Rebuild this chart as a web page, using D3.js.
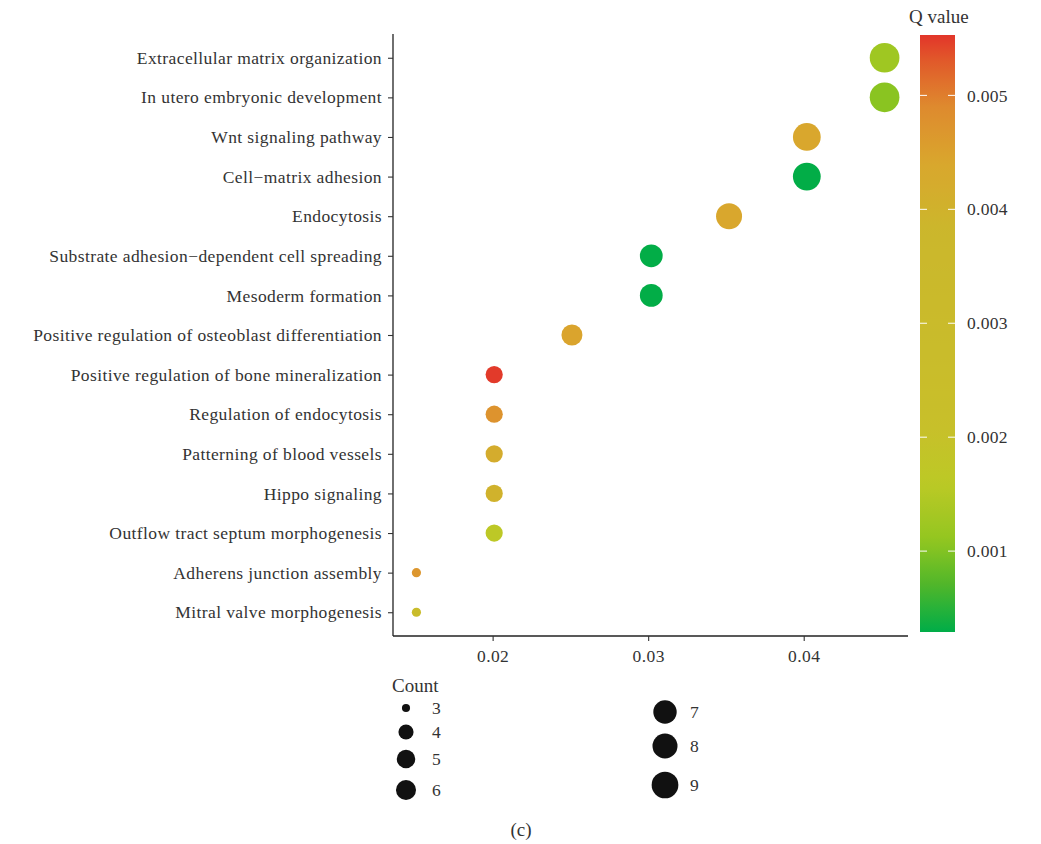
<!DOCTYPE html>
<html>
<head>
<meta charset="utf-8">
<script src="https://cdn.jsdelivr.net/npm/d3@7"></script>
<style>
  html, body { margin: 0; padding: 0; background: #fff; }
  svg text { font-family: "Liberation Serif", "Times New Roman", serif; fill: #333; }
</style>
</head>
<body>
<svg id="chart" width="1041" height="844"></svg>
<script>
// ---- data ----
const terms = [
  "Extracellular matrix organization",
  "In utero embryonic development",
  "Wnt signaling pathway",
  "Cell\u2212matrix adhesion",
  "Endocytosis",
  "Substrate adhesion\u2212dependent cell spreading",
  "Mesoderm formation",
  "Positive regulation of osteoblast differentiation",
  "Positive regulation of bone mineralization",
  "Regulation of endocytosis",
  "Patterning of blood vessels",
  "Hippo signaling",
  "Outflow tract septum morphogenesis",
  "Adherens junction assembly",
  "Mitral valve morphogenesis"
];
const geneRatio = [0.0452, 0.0452, 0.0402, 0.0402, 0.0352, 0.0302, 0.0302, 0.0251,
                   0.0201, 0.0201, 0.0201, 0.0201, 0.0201, 0.0151, 0.0151];
const counts = [9, 9, 8, 8, 7, 6, 6, 5, 4, 4, 4, 4, 4, 3, 3];
const qValues = [0.00125, 0.00105, 0.00440, 0.00030, 0.00440, 0.00030, 0.00030, 0.00445,
                 0.00550, 0.00475, 0.00420, 0.00400, 0.00165, 0.00470, 0.00270];
const xTicks = [0.02, 0.03, 0.04];
const qTicks = [0.001, 0.002, 0.003, 0.004, 0.005];
const qDomain = [0.00029, 0.00553];
const countBreaksCol1 = [3, 4, 5, 6];
const countBreaksCol2 = [7, 8, 9];
// colour ramp of the Q value bar (value -> colour)
const qStops = [0.00029, 0.0007, 0.0011, 0.0016, 0.0021, 0.0038, 0.0044, 0.0049, 0.0053, 0.00553];
const qColors = ["#00ad48", "#4fb62a", "#93c620", "#bcc926", "#c8bf2a", "#cbb72c",
                 "#d9a72d", "#de8a2e", "#e15a2a", "#e2352a"];
// size scale (count -> radius)
const sizeBreaks = [3, 4, 5, 6, 7, 8, 9];
const sizeRadii = [4.6, 8.6, 10.5, 11.4, 13.0, 13.9, 14.85];

// ---- layout ----
const svg = d3.select("#chart");
const panel = { left: 393, right: 908, top: 34, bottom: 636 };

const [xmin, xmax] = d3.extent(geneRatio);
const xpad = (xmax - xmin) * 0.05;
const x = d3.scaleLinear().domain([xmin - xpad, xmax + xpad]).range([panel.left, panel.right]);
const y = d3.scalePoint().domain(terms).range([panel.top, panel.bottom]).padding(0.6);
const color = d3.scaleLinear().domain(qStops).range(qColors).clamp(true);
const r = d3.scaleLinear().domain(sizeBreaks).range(sizeRadii);

// points
const data = terms.map((t, i) => ({ term: t, ratio: geneRatio[i], count: counts[i], q: qValues[i] }));
svg.append("g").selectAll("circle").data(data).join("circle")
  .attr("cx", d => x(d.ratio))
  .attr("cy", d => y(d.term))
  .attr("r", d => r(d.count))
  .attr("fill", d => color(d.q));

// axes
const xAxis = svg.append("g").attr("transform", `translate(0,${panel.bottom})`)
  .call(d3.axisBottom(x).tickValues(xTicks).tickFormat(d3.format(".2f")).tickSize(5).tickPadding(6));
const yAxis = svg.append("g").attr("transform", `translate(${panel.left},0)`)
  .call(d3.axisLeft(y).tickSize(5).tickPadding(6));
[xAxis, yAxis].forEach(g => {
  g.select(".domain").attr("stroke", "#222").attr("stroke-width", 1.3);
  g.selectAll(".tick line").attr("stroke", "#333").attr("stroke-width", 1.1);
  g.selectAll(".tick text").style("font-family", '"Liberation Serif", serif')
    .style("font-size", "17.5px").style("letter-spacing", "0.4px").attr("fill", "#333");
});
xAxis.select(".domain").attr("d", `M${panel.left},0H${panel.right}`);
yAxis.select(".domain").attr("d", `M0,${panel.top}V${panel.bottom}`);
xAxis.selectAll(".tick text").attr("dy", "0.85em");

// colour bar
const cb = { left: 920, right: 955, top: 35, bottom: 632 };
const qy = d3.scaleLinear().domain(qDomain).range([cb.bottom, cb.top]);
const defs = svg.append("defs");
const grad = defs.append("linearGradient").attr("id", "qgrad")
  .attr("x1", 0).attr("y1", 1).attr("x2", 0).attr("y2", 0);
d3.range(0, 1.0001, 0.02).forEach(t => {
  const v = qDomain[0] + t * (qDomain[1] - qDomain[0]);
  grad.append("stop").attr("offset", t).attr("stop-color", color(v));
});
svg.append("rect").attr("x", cb.left).attr("y", cb.top)
  .attr("width", cb.right - cb.left).attr("height", cb.bottom - cb.top)
  .attr("fill", "url(#qgrad)");
const cbTicks = svg.append("g");
qTicks.forEach(v => {
  const yy = qy(v);
  cbTicks.append("line").attr("x1", cb.left).attr("x2", cb.left + 7).attr("y1", yy).attr("y2", yy)
    .attr("stroke", "#fff").attr("stroke-width", 1);
  cbTicks.append("line").attr("x1", cb.right - 7).attr("x2", cb.right).attr("y1", yy).attr("y2", yy)
    .attr("stroke", "#fff").attr("stroke-width", 1);
  cbTicks.append("text").attr("x", cb.right + 12).attr("y", yy).attr("dy", "0.35em")
    .style("font-size", "17.5px").style("letter-spacing", "0.3px").text(d3.format(".3f")(v));
});
svg.append("text").attr("x", 909).attr("y", 23).style("font-size", "19px").text("Q value");

// size legend
svg.append("text").attr("x", 392).attr("y", 692).style("font-size", "19px").text("Count");
const col1Y = [708, 732, 759, 790];
const col2Y = [712, 746, 785];
const leg = svg.append("g");
countBreaksCol1.forEach((c, i) => {
  leg.append("circle").attr("cx", 406).attr("cy", col1Y[i]).attr("r", r(c) * 0.88).attr("fill", "#111");
  leg.append("text").attr("x", 432).attr("y", col1Y[i]).attr("dy", "0.35em").style("font-size", "17.5px").text(c);
});
countBreaksCol2.forEach((c, i) => {
  leg.append("circle").attr("cx", 665).attr("cy", col2Y[i]).attr("r", r(c) * 0.9).attr("fill", "#111");
  leg.append("text").attr("x", 690).attr("y", col2Y[i]).attr("dy", "0.35em").style("font-size", "17.5px").text(c);
});

// panel caption
svg.append("text").attr("x", 521).attr("y", 836).attr("text-anchor", "middle")
  .style("font-size", "19px").text("(c)");
</script>
</body>
</html>
